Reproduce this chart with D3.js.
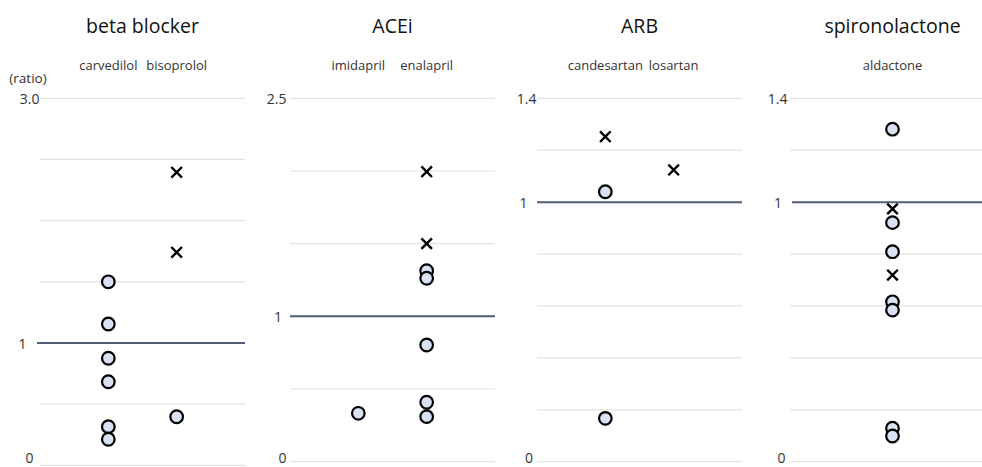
<!DOCTYPE html>
<html><head><meta charset="utf-8">
<script src="https://cdn.jsdelivr.net/npm/d3@7"></script>
<style>
body{margin:0;background:#fff;}
svg{display:block;font-family:"Open Sans","Noto Sans",sans-serif;}
</style></head>
<body><svg id="chart" width="982" height="467"></svg>
<script>
// ---- data ----
const panelTitles = ["beta blocker", "ACEi", "ARB", "spironolactone"];
const panelDrugs = [["carvedilol", "bisoprolol"], ["imidapril", "enalapril"], ["candesartan", "losartan"], ["aldactone"]];
const panelMax = [3.0, 2.5, 1.4, 1.4];
const panelStep = [0.5, 0.5, 0.2, 0.2];
const panelTickLabels = [["0", "1", "3.0"], ["0", "1", "2.5"], ["0", "1", "1.4"], ["0", "1", "1.4"]];
const panelTickValues = [[0, 1, 3.0], [0, 1, 2.5], [0, 1, 1.4], [0, 1, 1.4]];

// circle markers (ratio) per drug
const carvedilolCircles = [1.50, 1.155, 0.875, 0.683, 0.316, 0.213];
const bisoprololCircles = [0.397];
const imidaprilCircles = [0.333];
const enalaprilCircles = [1.314, 1.262, 0.803, 0.409, 0.310];
const candesartanCircles = [1.040, 0.167];
const losartanCircles = [];
const aldactoneCircles = [1.281, 0.921, 0.809, 0.616, 0.584, 0.129, 0.099];
// cross markers (ratio) per drug
const carvedilolCrosses = [];
const bisoprololCrosses = [2.395, 1.741];
const imidaprilCrosses = [];
const enalaprilCrosses = [1.995, 1.50];
const candesartanCrosses = [1.252];
const losartanCrosses = [1.124];
const aldactoneCrosses = [0.974, 0.719];

const circlesByPanel = [[carvedilolCircles, bisoprololCircles], [imidaprilCircles, enalaprilCircles], [candesartanCircles, losartanCircles], [aldactoneCircles]];
const crossesByPanel = [[carvedilolCrosses, bisoprololCrosses], [imidaprilCrosses, enalaprilCrosses], [candesartanCrosses, losartanCrosses], [aldactoneCrosses]];

// ---- layout ----
const svg = d3.select("#chart");
const panelLeft = [40, 290, 537, 790];
const panelWidth = 205;
const panelBottom = [465.3, 461.7, 461.7, 461.7];
const panelTop = 98.3;
// tick label right edges per panel: [0, 1, top]
const tickRight = [[33.5, 26.5, 39.5], [286.5, 282, 286.5], [533, 527.5, 536.5], [785.5, 782, 787.5]];

panelTitles.forEach((title, p) => {
  const x0 = panelLeft[p];
  const x = d3.scaleLinear().domain([0, 3]).range([x0, x0 + panelWidth]);
  const y = d3.scaleLinear().domain([0, panelMax[p]]).range([panelBottom[p], panelTop]);
  const g = svg.append("g");

  // grid lines
  const gridVals = d3.range(0, panelMax[p] + 1e-6, panelStep[p]).filter(v => Math.abs(v - 1) > 1e-6);
  g.selectAll("line.grid").data(gridVals).join("line")
    .attr("x1", x(0)).attr("x2", x(3))
    .attr("y1", d => y(d)).attr("y2", d => y(d))
    .attr("stroke", "#e3e3e3").attr("stroke-width", 1.2);

  // reference line at 1
  g.append("line")
    .attr("x1", x(0) - (p === 0 ? 3 : (p === 3 ? -2 : 0))).attr("x2", x(3))
    .attr("y1", y(1)).attr("y2", y(1))
    .attr("stroke", "#4f5d75").attr("stroke-width", 2);

  // tick labels
  panelTickValues[p].forEach((v, i) => {
    const yy = v === 0 ? 458 : y(v) + 0.5;
    g.append("text")
      .attr("x", tickRight[p][i]).attr("y", yy)
      .attr("dy", "0.36em").attr("text-anchor", "end")
      .attr("font-size", 14).attr("fill", "#333")
      .text(panelTickLabels[p][i]);
  });

  // title
  g.append("text")
    .attr("x", x(1.5)).attr("y", 33)
    .attr("text-anchor", "middle").attr("font-size", 19.5).attr("fill", "#111")
    .text(title);

  // drug labels
  const drugs = panelDrugs[p];
  const pos = drugs.length === 1 ? [1.5] : [1, 2];
  drugs.forEach((d, i) => {
    g.append("text")
      .attr("x", x(pos[i])).attr("y", 69.5)
      .attr("text-anchor", "middle").attr("font-size", 13).attr("fill", "#333")
      .text(d);
  });

  // markers
  drugs.forEach((d, i) => {
    const cx = x(pos[i]);
    g.selectAll(null).data(circlesByPanel[p][i]).join("circle")
      .attr("cx", cx).attr("cy", v => y(v)).attr("r", 6.3)
      .attr("fill", "#d9e2f3").attr("stroke", "#000").attr("stroke-width", 2.2);
    const s = 5.3;
    g.selectAll(null).data(crossesByPanel[p][i]).join("path")
      .attr("d", v => `M${cx - s},${y(v) - s}L${cx + s},${y(v) + s}M${cx - s},${y(v) + s}L${cx + s},${y(v) - s}`)
      .attr("stroke", "#000").attr("stroke-width", 2.4).attr("fill", "none");
  });
});

// y-axis unit label
svg.append("text").attr("x", 28).attr("y", 78).attr("dy", "0.35em")
  .attr("text-anchor", "middle").attr("font-size", 13.5).attr("fill", "#333").text("(ratio)");
</script></body></html>
